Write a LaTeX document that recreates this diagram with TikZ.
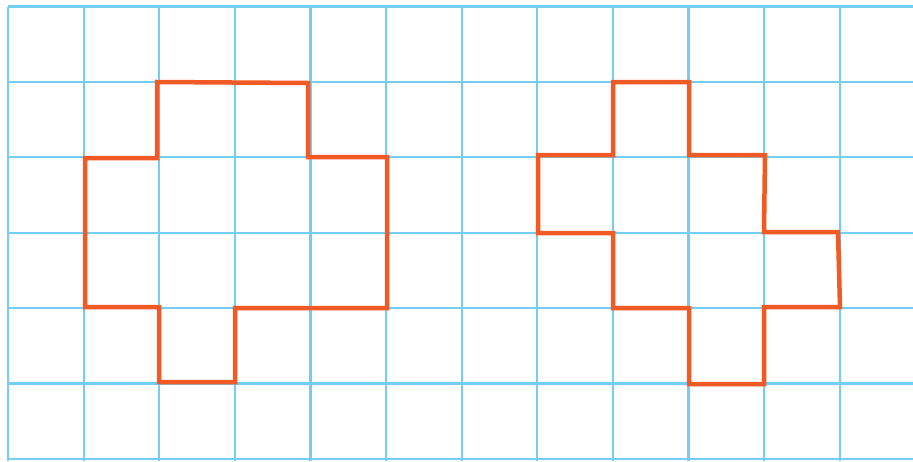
\documentclass[tikz,border=0pt]{standalone}
\definecolor{gridblue}{HTML}{74CDF2}
\definecolor{shapeorange}{HTML}{F15A24}
\begin{document}
\begin{tikzpicture}[x=1pt,y=-1pt,
  gridline/.style={draw=gridblue,line width=2.2pt},
  outline/.style={draw=shapeorange,line width=4.5pt,line join=miter,line cap=rect}]
\useasboundingbox (0,0) rectangle (913,461);
\fill[white] (0,0) rectangle (913,461);
\foreach \i in {0,...,11} {
  \draw[gridline] ({8+75.6*\i},6.5) -- ({8+75.6*\i},461);
}
\foreach \j in {0,...,6} {
  \draw[gridline] (8,{6.5+75.4*\j}) -- (913,{6.5+75.4*\j});
}
\draw[outline] (157,82) -- (308,83) -- (308,157) -- (387,157) -- (387,308) -- (235,308) -- (235,382) -- (159,382) -- (159,307) -- (85,307) -- (85,158) -- (157,158) -- cycle;
\draw[outline] (613,82) -- (689,82) -- (689,155) -- (765,155) -- (764,232) -- (838,232) -- (840,307) -- (764,307) -- (764,384) -- (689,384) -- (689,308) -- (613,308) -- (613,233) -- (538,233) -- (538,155) -- (613,155) -- cycle;
\end{tikzpicture}
\end{document}
